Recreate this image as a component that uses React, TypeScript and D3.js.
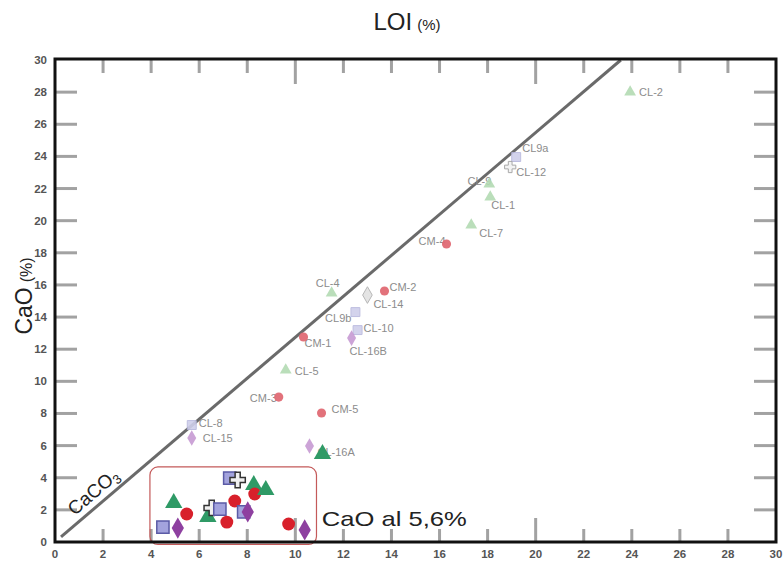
import { useEffect, useRef } from "react";
import * as d3 from "d3";

// labelled samples (pale markers)
const sampleNames = ["CL-2", "CL9a", "CL-12", "CL-9", "CL-1", "CL-7", "CM-4", "CL-4", "CM-2", "CL-14", "CL9b", "CL-10", "CL-16B", "CM-1", "CL-5", "CM-3", "CM-5", "CL-16A", "CL-8", "CL-15"];
const sampleLoi = [23.93, 19.19, 18.94, 18.07, 18.11, 17.32, 16.29, 11.51, 13.71, 13.0, 12.5, 12.59, 12.34, 10.34, 9.6, 9.31, 11.09, 10.59, 5.69, 5.69];
const sampleCao = [28.0, 23.96, 23.34, 22.28, 21.47, 19.73, 18.55, 15.49, 15.62, 15.37, 14.31, 13.19, 12.69, 12.76, 10.7, 9.02, 8.03, 5.97, 7.28, 6.47];
const sampleKind = ["tri", "sq", "cross", "tri", "tri", "tri", "circ", "tri", "circ", "greyDia", "sq", "sq", "dia", "circ", "tri", "circ", "circ", "dia", "sq", "dia"];

// extra dark triangle next to CL-16A
const extraLoi = [11.13];
const extraCao = [5.48];

// samples inside the "CaO al 5,6%" box (dark markers)
const boxLoi = [4.49, 5.11, 4.94, 5.48, 6.36, 6.52, 6.86, 7.15, 7.48, 7.27, 7.6, 8.27, 8.31, 8.77, 7.85, 8.02, 9.72, 10.39];
const boxCao = [0.93, 0.87, 2.43, 1.74, 1.56, 2.12, 2.05, 1.24, 2.55, 3.98, 3.86, 3.55, 2.99, 3.24, 1.87, 1.87, 1.12, 0.75];
const boxKind = ["sq", "dia", "tri", "circ", "tri", "cross", "sq", "circ", "circ", "sq", "cross", "tri", "circ", "tri", "sq", "dia", "circ", "dia"];

const xTicks = d3.range(0, 31, 2);
const yTicks = d3.range(0, 31, 2);
const caco3Ratio = 56.08 / 44.01; // CaO / CO2 in calcite

// label placement relative to marker: [dx, dy, anchor]
const labelOffsets: Record<string, [number, number, string]> = {
  "CL-2": [9, 4, "start"], "CL9a": [6, -5, "start"], "CL-12": [6, 9, "start"],
  "CL-9": [2, 1, "end"], "CL-1": [1, 12, "start"], "CL-7": [8, 12, "start"],
  "CM-4": [-1, 1, "end"], "CL-4": [-4, -6, "middle"], "CM-2": [5, 0, "start"],
  "CL-14": [6, 13, "start"], "CL9b": [-4, 10, "end"], "CL-10": [6, 2, "start"],
  "CL-16B": [-2, 17, "start"], "CM-1": [1, 10, "start"], "CL-5": [9, 5, "start"],
  "CM-3": [-2, 5, "end"], "CM-5": [10, 0, "start"], "CL-16A": [8, 10, "start"],
  "CL-8": [7, 2, "start"], "CL-15": [11, 4, "start"],
};

type Style = { sym: d3.SymbolType; size: number; fill: string; stroke: string };

const paleStyle: Record<string, Style> = {
  tri: { sym: d3.symbolTriangle, size: 60, fill: "#b3dab3", stroke: "none" },
  sq: { sym: d3.symbolSquare, size: 80, fill: "#cfcfeb", stroke: "#b8b8dd" },
  circ: { sym: d3.symbolCircle, size: 65, fill: "#e06a74", stroke: "none" },
  dia: { sym: d3.symbolDiamond, size: 70, fill: "#c79ad3", stroke: "none" },
  greyDia: { sym: d3.symbolDiamond, size: 80, fill: "#e2e2e2", stroke: "#b0b0b0" },
  cross: { sym: d3.symbolCross, size: 70, fill: "#f2f2f2", stroke: "#a0a0a0" },
};

const darkStyle: Record<string, Style> = {
  tri: { sym: d3.symbolTriangle, size: 130, fill: "#2f9a66", stroke: "none" },
  sq: { sym: d3.symbolSquare, size: 150, fill: "#a3a3dd", stroke: "#5b5ba6" },
  circ: { sym: d3.symbolCircle, size: 130, fill: "#d8202b", stroke: "none" },
  dia: { sym: d3.symbolDiamond, size: 130, fill: "#8e40a0", stroke: "none" },
  cross: { sym: d3.symbolCross, size: 130, fill: "#f0f0f0", stroke: "#333" },
};

const x = d3.scaleLinear().domain([0, 30]).range([55, 776]);
const y = d3.scaleLinear().domain([0, 30]).range([542, 60]);

export default function App() {
  const ref = useRef<SVGGElement>(null);

  useEffect(() => {
    const svg = d3.select(ref.current);
    svg.selectAll("*").remove();
    const font = "Arial, 'Liberation Sans', sans-serif";

    // title
    const title = svg.append("text").attr("x", 407).attr("y", 30)
      .attr("text-anchor", "middle").attr("font-family", font).attr("fill", "#222");
    title.append("tspan").attr("font-size", 24).text("LOI");
    title.append("tspan").attr("font-size", 15).attr("dx", 5).text("(%)");

    const ylab = svg.append("text").attr("transform", "translate(32,296) rotate(-90)")
      .attr("text-anchor", "middle").attr("font-family", font).attr("fill", "#222");
    ylab.append("tspan").attr("font-size", 23).text("CaO");
    ylab.append("tspan").attr("font-size", 16).attr("dx", 5).text("(%)");

    // tick marks, inward on all four sides
    const marks: [number, number, number, number][] = [];
    xTicks.slice(1, -1).forEach(d => {
      const len = d % 10 === 0 ? 24 : 13;
      marks.push([x(d), y(0), x(d), y(0) - len], [x(d), y(30), x(d), y(30) + len]);
    });
    yTicks.slice(1, -1).forEach(d => {
      marks.push([x(0), y(d), x(0) + 22, y(d)], [x(30), y(d), x(30) - 22, y(d)]);
    });
    marks.forEach(m => {
      svg.append("line")
        .attr("x1", m[0]).attr("y1", m[1]).attr("x2", m[2]).attr("y2", m[3])
        .style("stroke", "#a2a2a2").style("stroke-width", "3px");
    });

    // tick labels
    svg.append("g").selectAll("text").data(xTicks).join("text")
      .attr("x", d => x(d)).attr("y", 558).attr("text-anchor", "middle")
      .attr("font-family", font).attr("font-size", 11.5).attr("font-weight", "bold").attr("fill", "#555")
      .text(d => d);
    svg.append("g").selectAll("text").data(yTicks).join("text")
      .attr("x", 47).attr("y", d => y(d) + 4).attr("text-anchor", "end")
      .attr("font-family", font).attr("font-size", 11.5).attr("font-weight", "bold").attr("fill", "#555")
      .text(d => d);

    // CaCO3 stoichiometric line
    const topLoi = 30 / caco3Ratio;
    svg.append("line")
      .attr("x1", x(0.25)).attr("y1", y(0.25 * caco3Ratio))
      .attr("x2", x(topLoi)).attr("y2", y(30))
      .attr("stroke", "#6a6a6a").attr("stroke-width", 3);
    const angle = -Math.atan2(y(0) - y(caco3Ratio), x(1) - x(0)) * 180 / Math.PI;
    const cc = svg.append("text")
      .attr("transform", `translate(${x(1.95)},${y(1.95 * caco3Ratio)}) rotate(${angle})`)
      .attr("y", -7)
      .attr("text-anchor", "middle").attr("font-family", font).attr("font-size", 19).attr("fill", "#222");
    cc.append("tspan").text("CaCO");
    cc.append("tspan").attr("font-size", 13).attr("dy", 4).text("3");

    // box around low-CaO samples
    svg.append("rect")
      .attr("x", x(3.95)).attr("y", y(4.67))
      .attr("width", x(10.88) - x(3.95)).attr("height", y(-0.15) - y(4.67))
      .attr("rx", 8).attr("fill", "none").attr("stroke", "#c45a5a").attr("stroke-width", 1.2);
    svg.append("text").attr("x", x(11.1)).attr("y", y(1.45) + 7)
      .attr("font-family", font).attr("font-size", 21).attr("fill", "#222")
      .attr("textLength", 145).attr("lengthAdjust", "spacingAndGlyphs")
      .text("CaO al 5,6%");

    // frame
    svg.append("rect").attr("x", x(0)).attr("y", y(30) - 1)
      .attr("width", x(30) - x(0)).attr("height", y(0) - y(30) + 1)
      .attr("fill", "none").attr("stroke", "#111").attr("stroke-width", 3);

    const symbolPath = (st: Style) => d3.symbol().type(st.sym).size(st.size)() as string;

    // labelled samples
    const samples = sampleNames.map((name, i) => ({ name, loi: sampleLoi[i], cao: sampleCao[i], kind: sampleKind[i] }));
    svg.append("g").selectAll("text").data(samples).join("text")
      .attr("x", d => x(d.loi) + labelOffsets[d.name][0])
      .attr("y", d => y(d.cao) + labelOffsets[d.name][1])
      .attr("text-anchor", d => labelOffsets[d.name][2])
      .attr("font-family", font).attr("font-size", 11).attr("fill", "#8c8c8c")
      .text(d => d.name);
    svg.append("g").selectAll("path").data(samples).join("path")
      .attr("transform", d => `translate(${x(d.loi)},${y(d.cao)})`)
      .attr("d", d => symbolPath(paleStyle[d.kind]))
      .attr("fill", d => paleStyle[d.kind].fill)
      .attr("stroke", d => paleStyle[d.kind].stroke)
      .attr("opacity", d => d.kind === "circ" ? 0.95 : 0.9);

    svg.append("g").selectAll("path").data(extraLoi.map((v, i) => [v, extraCao[i]])).join("path")
      .attr("transform", d => `translate(${x(d[0])},${y(d[1])})`)
      .attr("d", symbolPath(darkStyle.tri))
      .attr("fill", darkStyle.tri.fill);

    // dark samples in box
    const boxed = boxLoi.map((loi, i) => ({ loi, cao: boxCao[i], kind: boxKind[i] }));
    svg.append("g").selectAll("path").data(boxed).join("path")
      .attr("transform", d => `translate(${x(d.loi)},${y(d.cao)})`)
      .attr("d", d => symbolPath(darkStyle[d.kind]))
      .attr("fill", d => darkStyle[d.kind].fill)
      .attr("stroke", d => darkStyle[d.kind].stroke)
      .attr("stroke-width", 1.5);
  }, []);

  return (
    <svg width={783} height={561} style={{ position: "absolute", left: 0, top: 0, background: "#fff" }}>
      <g ref={ref} />
    </svg>
  );
}
